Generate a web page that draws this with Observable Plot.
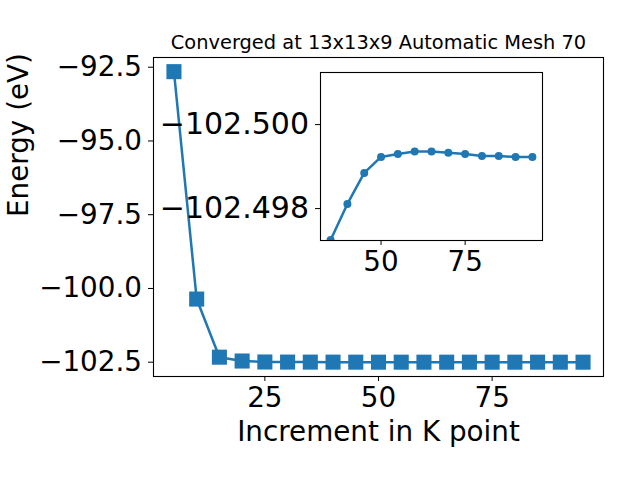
<!DOCTYPE html>
<html><head><meta charset="utf-8">
<script src="https://cdn.jsdelivr.net/npm/d3@7"></script>
<script src="https://cdn.jsdelivr.net/npm/@observablehq/plot@0.6"></script>
<style>
body{margin:0;background:#fff}
#wrap{position:relative;width:640px;height:480px}
#wrap svg{position:absolute;left:0;top:0}
</style>
</head><body><div id="wrap"></div>
<script>
const kpoints = [5,10,15,20,25,30,35,40,45,50,55,60,65,70,75,80,85,90,95];
const energies = [-92.65,-100.36,-102.33,-102.46,-102.493,-102.496,-102.49725,-102.49811,-102.49885,-102.49923,-102.4993,-102.49936,-102.49936,-102.49933,-102.4993,-102.49925,-102.49925,-102.49923,-102.49923];
const insetStart = 35;
const mainXTicks = [25,50,75];
const mainYTicks = [-102.5,-100,-97.5,-95,-92.5];
const insetXTicks = [50,75];
const insetYTicks = [-102.500,-102.498];
const title = "Converged at 13x13x9 Automatic Mesh 70";
const xLabel = "Increment in K point";
const yLabel = "Energy (eV)";

const data = kpoints.map((k,i)=>({k, e: energies[i]}));
const insetData = data.filter(d=>d.k>=insetStart);
const minus = s => String(s).replace("-", "\u2212");
const blue = "#1f77b4";
const font = "'DejaVu Sans', sans-serif";

const main = Plot.plot({
  width:640, height:480, marginLeft:153, marginRight:37, marginTop:57, marginBottom:104,
  style:{fontFamily:font, fontSize:"27.8px", background:"white", color:"black", overflow:"visible"},
  x:{domain:[0.5,99.5]},
  y:{domain:[-102.985,-92.17]},
  marks:[
    Plot.axisX({ticks:mainXTicks, tickFormat:d=>minus(d), tickSize:5, tickPadding:5.5, label:null}),
    Plot.axisY({ticks:mainYTicks, tickFormat:d=>minus(d.toFixed(1)), tickSize:5, tickPadding:6.5, label:null}),
    Plot.line(data,{x:"k",y:"e",stroke:blue,strokeWidth:2.5}),
    Plot.dot(data,{x:"k",y:"e",symbol:"square",r:8.5,fill:blue,stroke:null}),
    Plot.frame({stroke:"black", strokeWidth:1.1}),
    Plot.text([title],{frameAnchor:"top", dy:-14.5, text:d=>d, fontSize:19.4, lineAnchor:"middle", fill:"black"}),
    Plot.text([xLabel],{frameAnchor:"bottom", dy:56, text:d=>d, fontSize:27.8, lineAnchor:"middle", fill:"black"}),
    Plot.text([yLabel],{frameAnchor:"left", dx:-134, rotate:-90, text:d=>d, fontSize:27.8, lineAnchor:"middle", fill:"black"})
  ]
});

const inset = Plot.plot({
  width:640, height:480, marginLeft:320, marginRight:98, marginTop:72, marginBottom:240,
  style:{fontFamily:font, fontSize:"27.8px", background:"transparent", color:"black", overflow:"visible"},
  x:{domain:[32,98]},
  y:{domain:[-102.50124,-102.49724], reverse:true},
  marks:[
    Plot.frame({fill:"white"}),
    Plot.axisX({ticks:insetXTicks, tickFormat:d=>minus(d), tickSize:5, tickPadding:6, label:null}),
    Plot.axisY({ticks:insetYTicks, tickFormat:d=>minus(d.toFixed(3)), tickSize:5, tickPadding:6.5, fontSize:30, label:null}),
    Plot.line(insetData,{x:"k",y:"e",stroke:blue,strokeWidth:2.5, clip:true}),
    Plot.dot(insetData,{x:"k",y:"e",r:4,fill:blue,stroke:null, clip:true}),
    Plot.frame({stroke:"black", strokeWidth:1.1})
  ]
});

const wrap = document.getElementById("wrap");
wrap.appendChild(main);
wrap.appendChild(inset);
</script>
</body></html>
